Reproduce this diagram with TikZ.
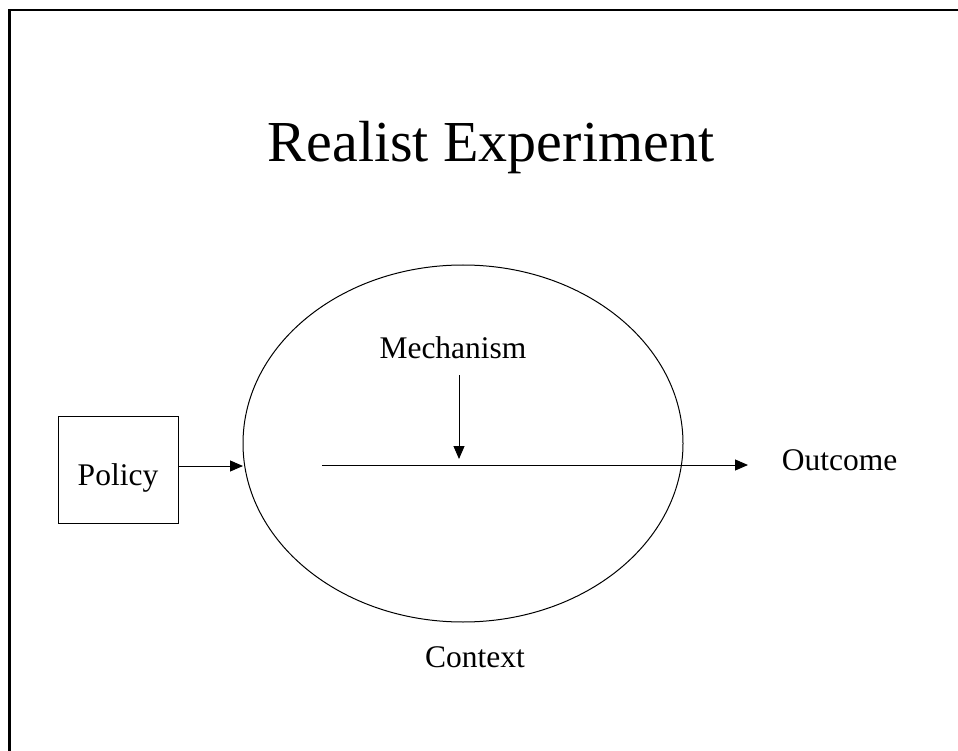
\documentclass[tikz,border=0pt]{standalone}
\usepackage{fontspec}
\setmainfont{Liberation Serif}
\usetikzlibrary{arrows.meta,shapes.geometric}
\begin{document}
\begin{tikzpicture}[x=1pt,y=-1pt,
  thinline/.style={line width=1pt,draw=black},
  arr/.style={thinline,-{Triangle[length=13pt,width=11pt]}},
  lbl/.style={font=\fontsize{31.5}{36}\selectfont,inner sep=0pt,anchor=base},
  frame/.style={line width=2.2pt,draw=black}]
\useasboundingbox (0,0) rectangle (958,751);
\draw[frame] (9.5,760) -- (9.5,10) -- (970,10);
\node[font=\fontsize{58}{66}\selectfont,inner sep=0pt,anchor=base] (title) at (491,162) {Realist Experiment};
\node[ellipse,thinline,minimum width=440pt,minimum height=357pt,inner sep=0pt] (circ) at (463,443.5) {};
\node[thinline,rectangle,minimum width=120pt,minimum height=107pt,inner sep=0pt] (policy) at (118,469.5) {};
\node[lbl] (policytxt) at (118,485) {Policy};
\node[lbl] (mech) at (453,358) {Mechanism};
\node[lbl] (outcome) at (839.5,470) {Outcome};
\node[lbl] (context) at (475,667) {Context};
\coordinate (pin) at (243,466);
\coordinate (mstart) at (322,465);
\coordinate (oend) at (748,465);
\coordinate (mtop) at (459,375);
\coordinate (mend) at (459,459);
\draw[arr] (policy.east |- pin) -- (pin);
\draw[arr] (mstart) -- (oend);
\draw[arr] (mtop) -- (mend);
\end{tikzpicture}
\end{document}
